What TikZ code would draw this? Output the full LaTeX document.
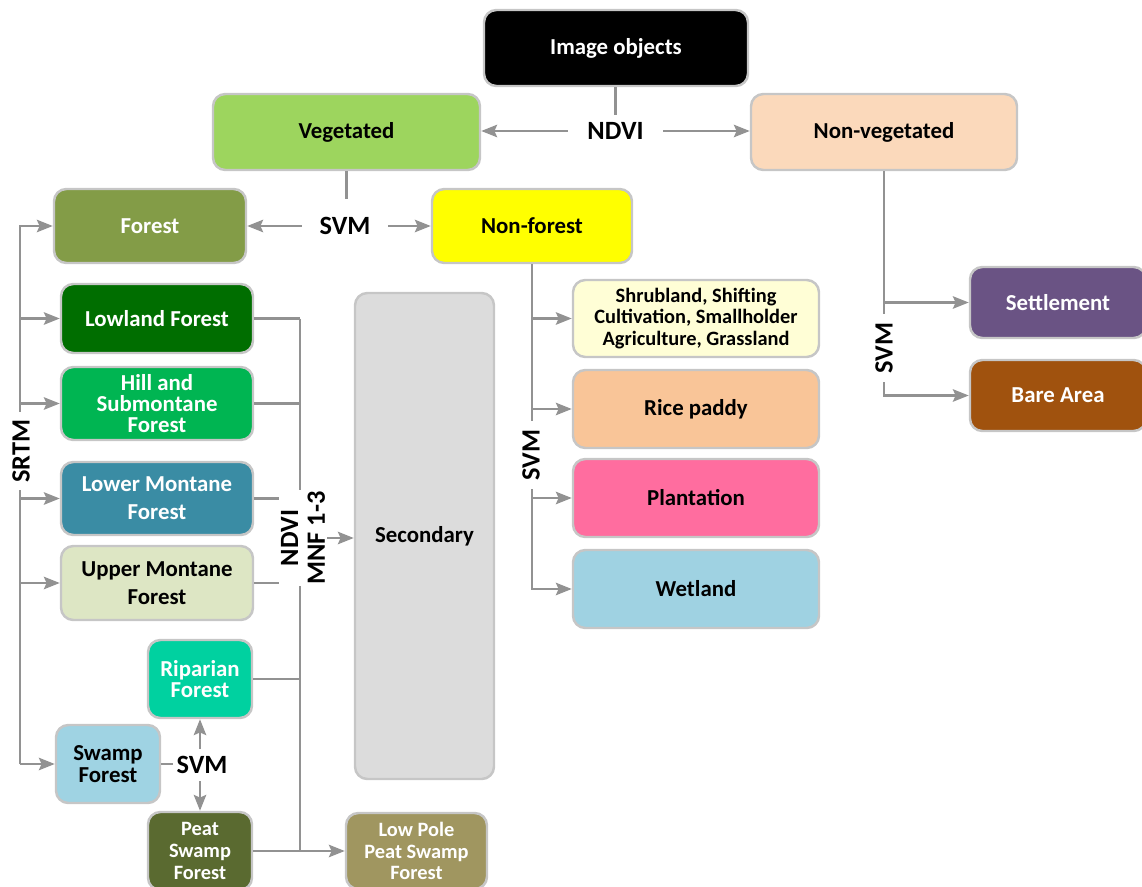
\documentclass[tikz,border=0pt]{standalone}
\usepackage{fontspec}
\setmainfont{Carlito}
\usetikzlibrary{arrows.meta}
\definecolor{cveg}{HTML}{9DD55E}
\definecolor{cnonveg}{HTML}{FBD9BB}
\definecolor{cforest}{HTML}{839C47}
\definecolor{cnonforest}{HTML}{FFFF00}
\definecolor{clow}{HTML}{006E00}
\definecolor{chill}{HTML}{00B552}
\definecolor{clm}{HTML}{3A8CA4}
\definecolor{cum}{HTML}{DDE6C4}
\definecolor{crip}{HTML}{00D1A0}
\definecolor{cswamp}{HTML}{9FD3E3}
\definecolor{cpeat}{HTML}{5A6A30}
\definecolor{clp}{HTML}{A09660}
\definecolor{csec}{HTML}{DCDCDC}
\definecolor{cshrub}{HTML}{FFFED6}
\definecolor{crice}{HTML}{F9C598}
\definecolor{cplant}{HTML}{FF6D9F}
\definecolor{cwet}{HTML}{9FD2E2}
\definecolor{csettle}{HTML}{6A5384}
\definecolor{cbare}{HTML}{A0520E}
\definecolor{boxline}{HTML}{C6C6C6}
\definecolor{lineclr}{HTML}{929292}
\begin{document}
\begin{tikzpicture}[x=0.02cm,y=-0.02cm,
  box/.style={draw=boxline, line width=1.4pt, rounded corners=7pt, align=center,
    inner sep=0pt, font=\fontsize{13}{12.2}\selectfont\bfseries},
  small/.style={font=\fontsize{11.6}{12.3}\selectfont\bfseries},
  sz/.style 2 args={minimum width=#1*0.02cm, minimum height=#2*0.02cm},
  lab/.style={font=\fontsize{15}{15.3}\selectfont\bfseries, inner sep=5pt, align=center},
  conn/.style={draw=lineclr, line width=1.5pt},
  arr/.style={conn, -{Stealth[length=9pt,width=7pt,inset=1.5pt]}}
]
\useasboundingbox (0,0) rectangle (1142,886);

% nodes
\node[box,sz={264}{76},fill=black,text=white] (img) at (616,48) {Image objects};
\node[box,sz={267}{76},fill=cveg] (veg) at (346.5,132) {Vegetated};
\node[box,sz={266}{76},fill=cnonveg] (nonveg) at (884,132) {Non-vegetated};
\node[box,sz={192}{74},fill=cforest,text=white] (forest) at (150,226) {Forest};
\node[box,sz={200}{74},fill=cnonforest] (nonforest) at (532,226) {Non-forest};
\node[box,sz={192}{69},fill=clow,text=white] (low) at (157,318.5) {Lowland Forest};
\node[box,sz={192}{73},fill=chill,text=white] (hill) at (157,403.5) {Hill and\\Submontane\\Forest};
\node[box,sz={192}{73},fill=clm,text=white] (lm) at (157,498.5) {Lower Montane\\[3.7pt]Forest};
\node[box,sz={192}{74},fill=cum] (um) at (157,583) {Upper Montane\\[3.7pt]Forest};
\node[box,sz={104}{78},fill=crip,text=white] (rip) at (200,679) {Riparian\\Forest};
\node[box,sz={104}{78},fill=cswamp] (swamp) at (108,764) {Swamp\\Forest};
\node[box,sz={104}{78},fill=cpeat,text=white,small] (peat) at (200,851) {Peat\\Swamp\\Forest};
\node[box,sz={141}{76},fill=clp,text=white,small] (lowpole) at (416.5,851) {Low Pole\\Peat Swamp\\Forest};
\node[box,sz={139}{486},fill=csec] (sec) at (424.5,536) {Secondary};
\node[box,sz={246}{77},fill=cshrub,small] (shrub) at (696,318.5) {Shrubland, Shifting\\Cultivation, Smallholder\\Agriculture, Grassland};
\node[box,sz={246}{78},fill=crice] (rice) at (696,409) {Rice paddy};
\node[box,sz={246}{78},fill=cplant] (plant) at (696,498) {Plantation};
\node[box,sz={246}{78},fill=cwet] (wet) at (696,589) {Wetland};
\node[box,sz={176}{71},fill=csettle,text=white] (settle) at (1058,302.5) {Settlement};
\node[box,sz={176}{71},fill=cbare,text=white] (bare) at (1058,395.5) {Bare Area};

% labels
\node[lab, inner xsep=11pt, inner ysep=4pt] (ndvi) at (615.5,131) {NDVI};
\node[lab, inner sep=10pt] (svm1) at (345,226) {SVM};

% top connectors
\draw[conn] (ndvi.north |- img.south) -- (ndvi.north);
\draw[arr] (ndvi.west) -- (veg.east |- ndvi.west);
\draw[arr] (ndvi.east) -- (nonveg.west |- ndvi.east);
\draw[conn] (veg.south) -- (veg.south |- svm1.north);
\draw[arr] (svm1.west) -- (forest.east |- svm1.west);
\draw[arr] (svm1.east) -- (nonforest.west |- svm1.east);

% SRTM bus
\coordinate (sb) at (20,0);
\draw[arr] (sb |- swamp.west) -- (sb |- forest.west) -- (forest.west);
\draw[arr] (sb |- swamp.west) -- (swamp.west);
\foreach \n in {low,hill,lm,um} { \draw[arr] (sb |- \n.west) -- (\n.west); }
\node[lab, rotate=90, fill=white, inner sep=4pt] (srtm) at (21,451) {SRTM};

% right bus to Secondary
\coordinate (rb) at (300,0);
\draw[conn] (rb |- low.east) -- (rb |- peat.east);
\foreach \n in {low,hill,lm,um,rip} { \draw[conn] (\n.east) -- (rb |- \n.east); }
\draw[arr] (peat.east) -- (lowpole.west |- peat.east);
\node[lab, rotate=90, fill=white, inner sep=1pt] (nm) at (303,538) {NDVI\\MNF 1-3};
\draw[arr] (nm.south) -- (sec.west |- nm.south);

% swamp SVM
\node[lab, inner xsep=2pt, inner ysep=4pt] (svm3) at (202,765) {SVM};
\draw[conn] (swamp.east) -- (svm3.west |- swamp.east);
\draw[arr] (rip.south |- svm3.north) -- (rip.south);
\draw[arr] (peat.north |- svm3.south) -- (peat.north);

% non-forest bus
\draw[arr] (nonforest.south) -- (nonforest.south |- wet.west) -- (wet.west);
\foreach \n in {shrub,rice,plant} { \draw[arr] (nonforest.south |- \n.west) -- (\n.west); }
\node[lab, rotate=90, fill=white, inner sep=5pt] (svm2) at (531,455) {SVM};

% non-vegetated bus
\draw[arr] (nonveg.south) -- (nonveg.south |- bare.west) -- (bare.west);
\draw[arr] (nonveg.south |- settle.west) -- (settle.west);
\node[lab, rotate=90, fill=white, inner sep=5pt] (svm4) at (884,348) {SVM};
\end{tikzpicture}
\end{document}
